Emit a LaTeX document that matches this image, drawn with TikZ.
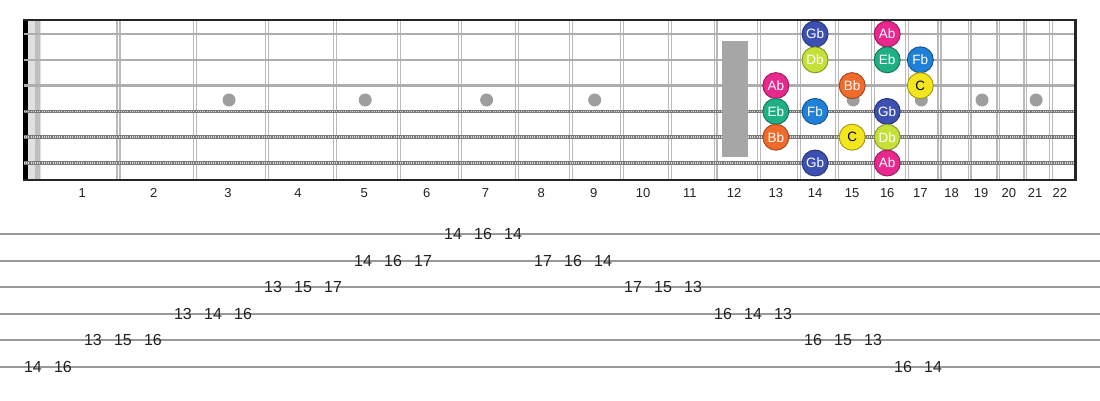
\documentclass[tikz,border=0pt]{standalone}
\usepackage{fontspec}
\setmainfont{Liberation Sans}
\usetikzlibrary{positioning}
\definecolor{noteGb}{RGB}{59,80,178}
\definecolor{noteAb}{RGB}{232,40,140}
\definecolor{noteDb}{RGB}{198,224,58}
\definecolor{noteEb}{RGB}{30,176,132}
\definecolor{noteFb}{RGB}{30,128,214}
\definecolor{noteBb}{RGB}{242,106,42}
\definecolor{noteC}{RGB}{244,230,28}
\definecolor{inkdark}{RGB}{34,34,34}
% fret and string positions (pt = px)
\pgfmathdeclarefunction{fretx}{1}{\pgfmathparse{38+1441.5*(1-2^(-(#1)/12))}}
\pgfmathdeclarefunction{fretmid}{1}{\pgfmathparse{(fretx(#1-1)+fretx(#1))/2-3}}
\pgfmathdeclarefunction{stry}{1}{\pgfmathparse{34+25.8*(#1-1)}}
\pgfmathdeclarefunction{taby}{1}{\pgfmathparse{234+26.6*(#1-1)}}
\tikzset{
    % Fretboard styles
    fret wire/.style={
        draw=black!27,
        line width=1.3pt,
        double=white,
        double distance=1.6pt
    },
    plain string/.style={
        draw=black!32,
        line width=2.6pt
    },
    wound string/.style={
        draw=black!52,
        line width=3.8pt
    },
    wound wrap/.style={
        draw=black!15,
        line width=1.6pt,
        dash pattern=on 1pt off 1.2pt
    },
    inlay dot/.style={
        circle,
        fill=black!38,
        minimum size=13pt,
        inner sep=0pt
    },
    % Note styles
    note ball/.style={
        circle,
        draw=#1!65!black,
        fill=#1,
        line width=0.9pt,
        minimum size=26pt,
        inner sep=0pt,
        text=white,
        font=\fontsize{13.5}{14}\selectfont
    },
    fret num/.style={
        font=\fontsize{13}{13}\selectfont,
        text=inkdark
    },
    % Tab styles
    tab line/.style={
        draw=black!40,
        line width=2pt
    },
    tab num/.style={
        font=\fontsize{16}{16}\selectfont,
        text=inkdark,
        inner sep=0pt
    }
}
\begin{document}
\begin{tikzpicture}[x=1pt, y=-1pt]
    \useasboundingbox[fill=white] (0,0) rectangle (1100,400);

    % nut
    \fill[black!12] (27,20) rectangle (41,180);
    \fill[black!25] (35,20) rectangle (40,180);
    \fill[black] (23,20) rectangle (27.5,180);

    % frets
    \foreach \n in {1,...,21}
        \draw[fret wire] ({fretx(\n)},20) -- ({fretx(\n)},180);

    % inlays
    \foreach \n in {3,5,7,9,15,17,19,21}
        \node[inlay dot] (dot\n) at ({fretmid(\n)+1},100) {};

    % strings
    \foreach \s in {1,2,3}
        \draw[plain string] (24,{stry(\s)}) -- (1075,{stry(\s)});
    \foreach \s in {4,5,6} {
        \draw[wound string] (24,{stry(\s)}) -- (1075,{stry(\s)});
        \draw[wound wrap] (24,{stry(\s)}) -- (1075,{stry(\s)});
    }

    % twelfth fret marker
    \fill[black!35] (722,41) rectangle (748,157);

    % border
    \draw[black!85, line width=2pt] (23,20) -- (1075,20);
    \draw[black!85, line width=2pt] (23,180) -- (1075,180);
    \draw[black!85, line width=3pt] (1075,19) -- (1075,181);

    % fret numbers
    \foreach \n in {1,...,22}
        \node[fret num] (num\n) at ({fretmid(\n)+7*(\n==1)},193) {\n};

    % notes
    \foreach \s/\f/\name/\ink in {1/14/Gb/white, 1/16/Ab/white,
            2/14/Db/white, 2/16/Eb/white, 2/17/Fb/white,
            3/13/Ab/white, 3/15/Bb/white, 3/17/C/black,
            4/13/Eb/white, 4/14/Fb/white, 4/16/Gb/white,
            5/13/Bb/white, 5/15/C/black, 5/16/Db/white,
            6/14/Gb/white, 6/16/Ab/white}
        \node[note ball=note\name, text=\ink] (s\s f\f) at ({fretmid(\f)},{stry(\s)}) {\name};

    % tab
    \foreach \l in {1,...,6}
        \draw[tab line] (0,{taby(\l)}) -- (1100,{taby(\l)});
    \foreach \l/\t [count=\i from 0] in {6/14, 6/16, 5/13, 5/15, 5/16,
            4/13, 4/14, 4/16, 3/13, 3/15, 3/17, 2/14, 2/16, 2/17,
            1/14, 1/16, 1/14, 2/17, 2/16, 2/14, 3/17, 3/15, 3/13,
            4/16, 4/14, 4/13, 5/16, 5/15, 5/13, 6/16, 6/14}
        \node[tab num] (tab\i) at ({33+30*\i},{taby(\l)}) {\t};
\end{tikzpicture}
\end{document}
